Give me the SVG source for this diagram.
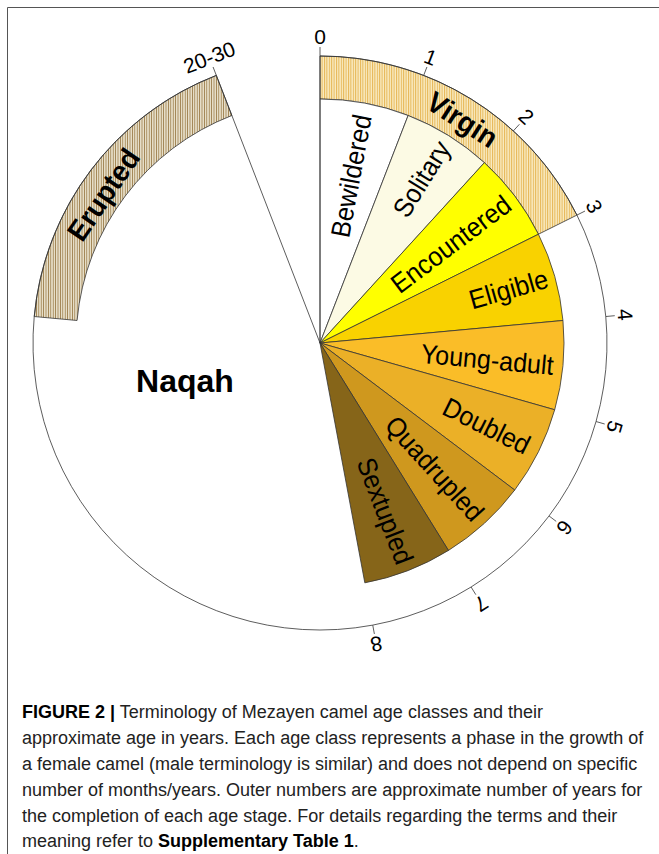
<svg xmlns="http://www.w3.org/2000/svg" width="659" height="854" viewBox="0 0 659 854">
<defs>
<pattern id="hatchV" patternUnits="userSpaceOnUse" width="2.4" height="10">
<rect width="2.4" height="10" fill="#f9ecc4"/>
<rect width="1" height="10" fill="#e6b552"/>
</pattern>
<pattern id="hatchE" patternUnits="userSpaceOnUse" width="2.4" height="10">
<rect width="2.4" height="10" fill="#e6dec8"/>
<rect width="0.8" height="10" fill="#9a7c48"/>
</pattern>
</defs>
<style>
.ln{stroke:#333;stroke-width:0.8;fill:none}
.sec{stroke:#333;stroke-width:0.8}
.lab{font-family:"Liberation Sans",Arial,sans-serif;font-size:27px;fill:#000;text-anchor:middle;dominant-baseline:central}
.bold{font-weight:bold;font-size:29px}
.num{font-family:"Liberation Sans",Arial,sans-serif;font-size:21px;fill:#000;text-anchor:middle}
.cap{font-family:"Liberation Sans",Arial,sans-serif;font-size:18px;fill:#222}
</style>
<rect width="659" height="854" fill="#fff"/>
<path d="M7.5,854 V7.5 H659" stroke="#555" stroke-width="1" fill="none"/>

<g id="naqah">
<path d="M320,343 L372.74,625.11 A287,287 0 0 1 216.32,75.38 Z" fill="#fff"/>
<text class="lab bold" x="185" y="381" style="font-size:32px">Naqah</text>
</g>

<g id="erupted">
<path class="sec" d="M34.23,316.52 A287,287 0 0 1 216.32,75.38 L231.86,115.48 A244,244 0 0 0 77.04,320.49 Z" fill="url(#hatchE)"/>
<text class="lab bold" transform="translate(103.3,194.5) rotate(-55.5) scale(0.95,1)">Erupted</text>
</g>

<g id="virgin">
<path class="sec" d="M320,56 A287,287 0 0 1 576.91,215.08 L538.42,234.24 A244,244 0 0 0 320,99 Z" fill="url(#hatchV)"/>
<text class="lab bold" transform="translate(462.4,119.5) rotate(32.5) scale(0.95,1)">Virgin</text>
</g>

<g id="bewildered">
<path class="sec" d="M320,343 L320,99 A244,244 0 0 1 408.14,115.48 Z" fill="#ffffff"/>
<text class="lab" transform="translate(351.2,175.9) rotate(-79.41) scale(0.93,1)">Bewildered</text>
</g>
<g id="solitary">
<path class="sec" d="M320,343 L408.14,115.48 A244,244 0 0 1 484.38,162.68 Z" fill="#fcfae4"/>
<text class="lab" transform="translate(421.6,178.9) rotate(-58.24) scale(0.93,1)">Solitary</text>
</g>
<g id="encountered">
<path class="sec" d="M320,343 L484.38,162.68 A244,244 0 0 1 538.42,234.24 Z" fill="#ffff00"/>
<text class="lab" transform="translate(450.9,244.2) rotate(-37.06) scale(0.93,1)">Encountered</text>
</g>
<g id="eligible">
<path class="sec" d="M320,343 L538.42,234.24 A244,244 0 0 1 562.96,320.49 Z" fill="#f9d200"/>
<text class="lab" transform="translate(508.5,289.4) rotate(-15.88) scale(0.93,1)">Eligible</text>
</g>
<g id="young-adult">
<path class="sec" d="M320,343 L562.96,320.49 A244,244 0 0 1 554.69,409.77 Z" fill="#fabd28"/>
<text class="lab" transform="translate(487.3,359.5) rotate(5.29) scale(0.93,1)">Young-adult</text>
</g>
<g id="doubled">
<path class="sec" d="M320,343 L554.69,409.77 A244,244 0 0 1 514.72,490.04 Z" fill="#ebb027"/>
<text class="lab" transform="translate(486.5,425.9) rotate(26.47) scale(0.93,1)">Doubled</text>
</g>
<g id="quadrupled">
<path class="sec" d="M320,343 L514.72,490.04 A244,244 0 0 1 448.45,550.45 Z" fill="#cf981e"/>
<text class="lab" transform="translate(434.5,468.6) rotate(47.65) scale(0.93,1)">Quadrupled</text>
</g>
<g id="sextupled">
<path class="sec" d="M320,343 L448.45,550.45 A244,244 0 0 1 364.84,582.84 Z" fill="#866519"/>
<text class="lab" transform="translate(385,510.9) rotate(68.82) scale(0.93,1)">Sextupled</text>
</g>

<g id="connectors">
<path class="ln" d="M320,56 A287,287 0 1 1 216.32,75.38"/>
<path class="ln" d="M320,343 L320,47"/>
<path class="ln" d="M320,343 L213.07,66.99"/>
<path class="ln" d="M423.68,75.38 L426.93,66.99 M513.35,130.9 L519.42,124.25 M576.91,215.08 L584.97,211.06 M605.77,316.52 L614.74,315.69 M596.05,421.54 L604.7,424 M549.03,515.95 L556.21,521.38 M471.09,587.01 L475.82,594.67 M372.74,625.11 L374.39,633.96"/>
</g>

<g id="ticks">
<text class="num" x="320" y="44">0</text>
<text class="num" x="320" y="44" transform="rotate(21.18 320 343)">1</text>
<text class="num" x="320" y="44" transform="rotate(42.35 320 343)">2</text>
<text class="num" x="320" y="44" transform="rotate(63.53 320 343)">3</text>
<text class="num" x="320" y="44" transform="rotate(84.71 320 343)">4</text>
<text class="num" x="320" y="44" transform="rotate(105.88 320 343)">5</text>
<text class="num" x="320" y="44" transform="rotate(127.06 320 343)">6</text>
<text class="num" x="320" y="44" transform="rotate(148.24 320 343)">7</text>
<text class="num" x="320" y="44" transform="rotate(169.41 320 343)">8</text>
<text class="num" x="320" y="44" transform="rotate(-21.18 320 343)">20-30</text>
</g>

<g id="caption">
<text class="cap" x="22" y="718"><tspan font-weight="bold" fill="#000">FIGURE 2 |</tspan> Terminology of Mezayen camel age classes and their</text>
<text class="cap" x="22" y="744">approximate age in years. Each age class represents a phase in the growth of</text>
<text class="cap" x="22" y="770">a female camel (male terminology is similar) and does not depend on specific</text>
<text class="cap" x="22" y="796">number of months/years. Outer numbers are approximate number of years for</text>
<text class="cap" x="22" y="822">the completion of each age stage. For details regarding the terms and their</text>
<text class="cap" x="22" y="847">meaning refer to <tspan font-weight="bold" fill="#000">Supplementary Table 1</tspan>.</text>
</g>
</svg>
